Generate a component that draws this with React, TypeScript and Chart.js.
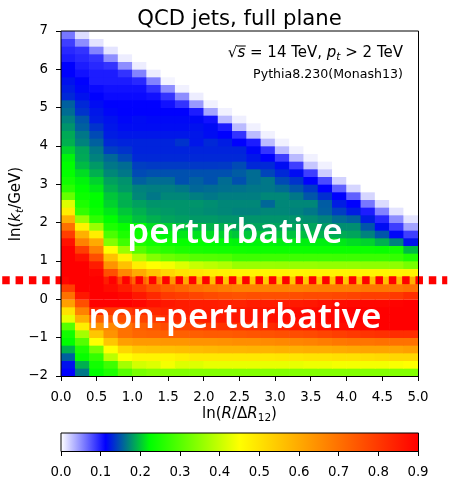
import React, { useEffect, useRef } from "react";
import { Chart, registerables } from "chart.js";

Chart.register(...registerables);

// Cell values in thousandths, top row (ln kt from 7.0 to 6.8) first; missing cells are empty.
const cellRows: number[][] = [
  [60,15],
  [85,50,12],
  [95,90,55,12],
  [100,95,90,50,8],
  [113,100,95,90,50,8],
  [113,105,100,100,90,55,8],
  [120,113,100,100,100,95,55,5],
  [125,115,108,105,105,105,90,50,6],
  [130,120,113,108,108,108,105,90,50,8],
  [155,130,118,113,112,112,112,105,90,45,6],
  [160,135,122,115,113,113,113,113,113,100,40,6],
  [170,150,125,120,115,118,116,116,116,116,105,30,7],
  [178,155,135,122,118,118,118,118,118,120,117,100,30,6],
  [187,165,145,125,122,122,122,122,122,122,118,113,90,30,6],
  [190,170,155,130,128,128,128,128,135,122,130,125,113,100,30,6],
  [205,185,165,140,135,128,128,128,128,128,128,128,128,115,90,30,6],
  [220,187,170,158,145,130,130,130,130,130,130,130,130,122,113,85,30,6],
  [225,195,180,165,160,140,138,138,138,137,137,138,145,130,130,118,85,25,6],
  [228,210,190,172,165,145,148,148,148,148,148,148,153,160,143,130,118,85,22],
  [240,220,205,183,177,155,160,160,148,155,148,160,148,160,165,145,135,113,80,20],
  [260,225,215,190,180,170,168,168,165,158,160,162,163,165,165,160,150,137,113,70,18],
  [315,235,225,200,190,172,165,172,172,168,165,168,168,168,172,172,165,150,133,113,70,18],
  [420,250,225,205,190,183,178,178,178,178,175,172,172,172,158,172,172,172,153,125,113,60,16],
  [480,270,235,215,200,190,182,180,178,176,174,172,170,170,172,172,170,165,155,140,125,100,55,12],
  [590,360,265,225,210,197,190,185,182,180,180,178,178,178,178,178,178,175,170,160,155,125,95,50,12],
  [700,470,360,250,230,225,210,205,200,195,192,190,185,185,185,185,185,185,180,175,175,150,118,85,40],
  [790,590,480,290,250,235,225,220,215,212,210,205,200,200,200,198,198,195,190,188,185,170,150,115,85],
  [870,670,600,340,280,250,240,235,230,228,225,222,220,220,220,218,218,218,218,215,210,205,190,170,120],
  [900,790,670,450,360,300,270,260,250,245,242,240,238,236,236,236,236,235,235,235,235,235,232,240,195],
  [900,870,760,560,470,380,340,320,310,300,298,295,280,280,280,280,280,280,280,278,278,275,275,270,250],
  [900,900,850,640,560,480,450,440,420,400,390,380,360,360,360,358,358,358,355,355,355,350,350,350,330],
  [900,900,890,760,660,600,550,520,500,490,480,475,470,470,468,468,468,470,470,470,470,468,468,468,470],
  [890,900,900,850,780,720,670,630,600,580,560,550,545,540,540,540,545,545,545,545,550,560,560,570,590],
  [790,900,900,880,850,800,760,740,720,700,690,680,670,670,670,670,670,675,680,680,680,690,690,690,700],
  [700,860,900,900,890,860,830,800,790,780,770,760,755,760,760,760,765,770,770,775,780,790,790,800,820],
  [620,760,900,900,900,890,870,860,850,850,850,845,840,850,850,850,855,860,870,880,885,890,890,895,900],
  [500,670,830,800,800,820,830,840,850,850,855,855,860,865,870,875,880,885,890,895,900,900,900,900,900],
  [430,590,730,740,760,780,800,820,830,840,850,855,860,865,870,875,880,885,890,895,900,900,900,900,900],
  [300,480,640,660,700,730,750,770,780,790,800,810,815,820,830,840,850,860,870,880,885,890,900,900,900],
  [240,370,550,640,700,720,725,730,730,735,740,740,745,750,755,760,765,770,780,790,800,810,815,820,820],
  [225,300,450,550,620,630,630,635,635,640,640,645,650,650,655,660,665,670,680,690,695,695,700,700,700],
  [190,250,330,450,520,550,555,560,565,570,575,580,580,585,585,590,590,595,595,600,605,610,610,610,620],
  [155,230,270,390,450,470,470,470,480,490,490,490,490,490,490,495,495,500,500,505,505,510,515,520,520],
  [120,190,240,280,370,410,420,440,420,420,430,430,430,430,430,430,430,435,435,440,440,440,440,445,450],
  [112,165,225,250,300,330,340,340,340,340,340,340,340,340,340,340,340,340,340,340,340,340,340,340,340],
];

const cellWidth = 0.2;
const cellHeight = 0.2;
const columnCount = 25;
const colorStopValues = [0, 0.1125, 0.225, 0.45, 0.9];
const colorStopRgb = [
  [255, 255, 255],
  [0, 0, 255],
  [0, 255, 0],
  [255, 255, 0],
  [255, 0, 0],
];
const colorbarTicks = [0, 0.1, 0.2, 0.3, 0.4, 0.5, 0.6, 0.7, 0.8, 0.9];
const separationLine = [
  { x: -0.823, y: 0.5 },
  { x: 5.41, y: 0.5 },
];

const sans = "'DejaVu Sans'";

function colorFor(v: number) {
  for (let i = 1; i < colorStopValues.length; i++) {
    if (v <= colorStopValues[i]) {
      const t = (v - colorStopValues[i - 1]) / (colorStopValues[i] - colorStopValues[i - 1]);
      const a = colorStopRgb[i - 1];
      const b = colorStopRgb[i];
      return `rgb(${a.map((c, k) => Math.round(c + (b[k] - c) * t)).join(",")})`;
    }
  }
  return "rgb(255,0,0)";
}

type Run = { t: string; italic?: boolean; sub?: boolean };

function runsWidth(ctx: CanvasRenderingContext2D, runs: Run[], size: number) {
  let w = 0;
  for (const r of runs) {
    const s = r.sub ? size * 0.7 : size;
    ctx.font = `${r.italic ? "italic " : ""}${s}px ${sans}`;
    w += ctx.measureText(r.t).width;
  }
  return w;
}

function drawRuns(ctx: CanvasRenderingContext2D, runs: Run[], x: number, y: number, size: number) {
  let cx = x;
  ctx.textAlign = "left";
  ctx.textBaseline = "alphabetic";
  for (const r of runs) {
    const s = r.sub ? size * 0.7 : size;
    ctx.font = `${r.italic ? "italic " : ""}${s}px ${sans}`;
    ctx.fillText(r.t, cx, r.sub ? y + size * 0.2 : y);
    cx += ctx.measureText(r.t).width;
  }
}

function drawFrame(ctx: CanvasRenderingContext2D, a: any) {
  ctx.strokeStyle = "#000";
  ctx.lineWidth = 1;
  ctx.beginPath();
  ctx.moveTo(a.left, a.bottom + 0.5);
  ctx.lineTo(a.left, a.top);
  ctx.lineTo(a.right + 0.5, a.top);
  ctx.lineTo(a.right + 0.5, a.bottom + 0.5);
  ctx.lineTo(a.left, a.bottom + 0.5);
  ctx.stroke();
}

const annotations = {
  id: "annotations",
  afterDatasetsDraw(chart: any) {
    const { ctx, chartArea: a } = chart;
    ctx.save();
    drawFrame(ctx, a);

    ctx.fillStyle = "#000";
    ctx.font = `21.2px ${sans}`;
    ctx.textAlign = "center";
    ctx.textBaseline = "alphabetic";
    ctx.fillText("QCD jets, full plane", 239.5, 25);

    const energy: Run[] = [
      { t: "√" },
      { t: "s", italic: true },
      { t: " = 14 TeV, " },
      { t: "p", italic: true },
      { t: "t", italic: true, sub: true },
      { t: " > 2 TeV" },
    ];
    const eSize = 15;
    const ew = runsWidth(ctx, energy, eSize);
    const ex = 403 - ew;
    drawRuns(ctx, energy, ex, 57, eSize);
    ctx.font = `${eSize}px ${sans}`;
    const rootW = ctx.measureText("√").width;
    ctx.font = `italic ${eSize}px ${sans}`;
    const sW = ctx.measureText("s").width;
    ctx.fillRect(ex + rootW - 0.5, 45.5, sW + 1, 1);

    ctx.font = `12.6px ${sans}`;
    ctx.textAlign = "right";
    ctx.fillText("Pythia8.230(Monash13)", 403, 78);

    const xt: Run[] = [
      { t: "ln(" },
      { t: "R", italic: true },
      { t: "/Δ" },
      { t: "R", italic: true },
      { t: "12", sub: true },
      { t: ")" },
    ];
    drawRuns(ctx, xt, 239.5 - runsWidth(ctx, xt, 15) / 2, 418, 15);

    const yt: Run[] = [
      { t: "ln(" },
      { t: "k", italic: true },
      { t: "t", italic: true, sub: true },
      { t: "/GeV)" },
    ];
    ctx.save();
    ctx.translate(20, 204);
    ctx.rotate(-Math.PI / 2);
    drawRuns(ctx, yt, -runsWidth(ctx, yt, 15) / 2, 0, 15);
    ctx.restore();

    ctx.fillStyle = "#fff";
    ctx.textAlign = "center";
    ctx.font = `600 35px 'Noto Sans'`;
    ctx.fillText("perturbative", 235, 243);
    ctx.fillText("non-perturbative", 235, 328);
    ctx.restore();
  },
};

const colorbarFrame = {
  id: "colorbarFrame",
  afterDatasetsDraw(chart: any) {
    const { ctx, chartArea: a } = chart;
    ctx.save();
    drawFrame(ctx, a);
    ctx.restore();
  },
};

export default function App() {
  const mainRef = useRef<HTMLCanvasElement>(null);
  const barRef = useRef<HTMLCanvasElement>(null);

  useEffect(() => {
    const tickFont = { family: sans, size: 13.33 };
    const heatDatasets: any[] = cellRows.map((row, r) => {
      const top = 7 - r * cellHeight;
      const cells = Array.from({ length: columnCount }, (_, c) => (row[c] ?? 0) / 1000);
      return {
        type: "bar",
        order: 1,
        grouped: false,
        barPercentage: 1,
        categoryPercentage: 1,
        borderWidth: 0,
        data: cells.map((_, c) => ({ x: (c + 0.5) * cellWidth, y: [top - cellHeight, top] })),
        backgroundColor: cells.map(colorFor),
      };
    });

    const main = new Chart(mainRef.current!, {
      type: "bar",
      data: {
        datasets: [
          ...heatDatasets,
          {
            type: "line",
            order: 0,
            data: separationLine,
            borderColor: "#ff0000",
            borderWidth: 8,
            borderDash: [7.5, 5.83],
            pointRadius: 0,
            clip: false,
          },
        ],
      },
      options: {
        animation: false,
        responsive: false,
        layout: { padding: { right: 31, top: 31 } },
        plugins: { legend: { display: false }, tooltip: { enabled: false }, title: { display: false } },
        scales: {
          x: {
            type: "linear",
            min: 0,
            max: 5,
            offset: false,
            grid: { drawOnChartArea: false, tickLength: 5, tickColor: "#000", offset: false },
            border: { display: false },
            afterFit: (s: any) => { s.height = 49; },
            ticks: {
              stepSize: 0.5,
              font: tickFont,
              color: "#000",
              padding: 9,
              maxRotation: 0,
              autoSkip: false,
              callback: (v: any) => Number(v).toFixed(1),
            },
          },
          y: {
            type: "linear",
            min: -2,
            max: 7,
            grid: { drawOnChartArea: false, tickLength: 5, tickColor: "#000" },
            border: { display: false },
            afterFit: (s: any) => { s.width = 61; },
            ticks: {
              stepSize: 1,
              font: tickFont,
              color: "#000",
              padding: 8,
              callback: (v: any) => String(v).replace("-", "\u2212"),
            },
          },
        },
      },
      plugins: [annotations],
    } as any);

    const bar = new Chart(barRef.current!, {
      type: "bar",
      data: {
        labels: [""],
        datasets: [
          {
            data: [[colorStopValues[0], colorStopValues[colorStopValues.length - 1]]],
            barPercentage: 1,
            categoryPercentage: 1,
            borderWidth: 0,
            backgroundColor: (c: any) => {
              const area = c.chart.chartArea;
              if (!area) return "#000";
              const g = c.chart.ctx.createLinearGradient(area.left, 0, area.right, 0);
              colorStopValues.forEach((v, i) => g.addColorStop(v / 0.9, `rgb(${colorStopRgb[i].join(",")})`));
              return g;
            },
          },
        ],
      },
      options: {
        animation: false,
        responsive: false,
        indexAxis: "y",
        layout: { padding: { left: 61, right: 31, top: 13 } },
        plugins: { legend: { display: false }, tooltip: { enabled: false } },
        scales: {
          y: { display: false },
          x: {
            type: "linear",
            min: 0,
            max: 0.9,
            afterBuildTicks: (s: any) => { s.ticks = colorbarTicks.map((value) => ({ value })); },
            afterFit: (s: any) => { s.height = 26; },
            grid: { drawOnChartArea: false, tickLength: 5, tickColor: "#000" },
            border: { display: false },
            ticks: {
              font: tickFont,
              color: "#000",
              padding: 9,
              maxRotation: 0,
              autoSkip: false,
              callback: (v: any) => Number(v).toFixed(1),
            },
          },
        },
      },
      plugins: [colorbarFrame],
    } as any);

    return () => {
      main.destroy();
      bar.destroy();
    };
  }, []);

  return (
    <div style={{ position: "fixed", left: 0, top: 0, width: 449, height: 477, background: "#fff" }}>
      <canvas ref={mainRef} width={449} height={425} style={{ position: "absolute", left: 0, top: 0 }} />
      <canvas ref={barRef} width={449} height={57} style={{ position: "absolute", left: 0, top: 420 }} />
    </div>
  );
}
